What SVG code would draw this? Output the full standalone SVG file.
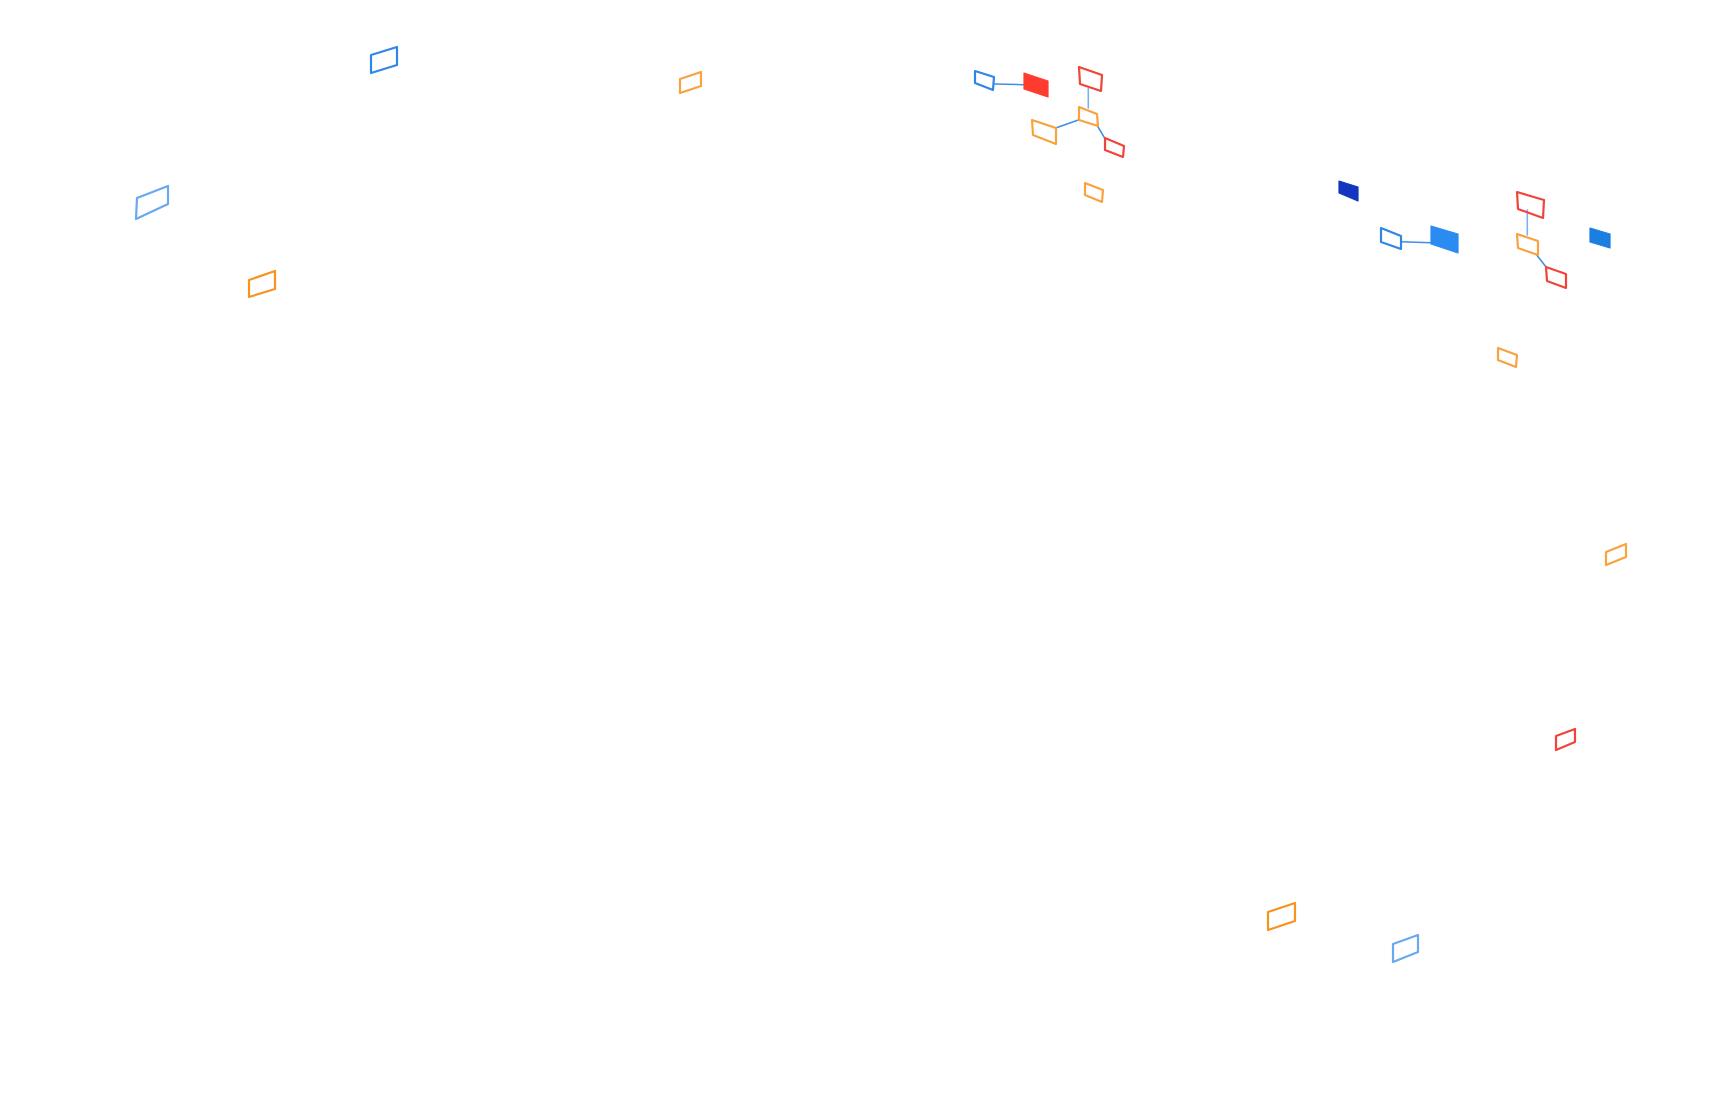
<svg xmlns="http://www.w3.org/2000/svg" width="1712" height="1106" viewBox="0 0 1712 1106">
<style>
.n{fill:none;stroke-width:2.2;stroke-linejoin:round}
.f{stroke-width:1.2;stroke-linejoin:round}
.b{stroke:#2f86e6}
.lb{stroke:#6aa8f0}
.o{stroke:#f7931e}
.lo{stroke:#f9a23f}
.r{stroke:#f0443a}
.c{fill:none;stroke-width:1.6;stroke-linecap:round}
</style>
<rect width="1712" height="1106" fill="#ffffff"/>
<g id="connectors">
<line class="c" x1="994" y1="84" x2="1024" y2="84.7" stroke="#3f8fe8"/>
<line class="c" x1="1088.3" y1="88" x2="1088.3" y2="108" stroke="#7ab2ee"/>
<line class="c" x1="1055.7" y1="128" x2="1079" y2="119.7" stroke="#3f8fe8"/>
<line class="c" x1="1097.7" y1="126.3" x2="1105" y2="138.7" stroke="#3f8fe8"/>
<line class="c" x1="1401" y1="241.7" x2="1431" y2="242.7" stroke="#3f8fe8"/>
<line class="c" x1="1527.3" y1="210" x2="1527.3" y2="235" stroke="#7ab2ee"/>
<line class="c" x1="1536.7" y1="255" x2="1546.7" y2="267.7" stroke="#3f8fe8"/>
</g>
<g id="n1"><polygon class="n b" points="371,55 397,47 397,65 371,73"/></g>
<g id="n2"><polygon class="n lb" points="137,198 168,186 168,204 136,219"/></g>
<g id="n3"><polygon class="n o" points="249,280 275,271 275,289 249,297"/></g>
<g id="n4"><polygon class="n lo" points="680,79 701,72 701,86 680,93"/></g>
<g id="n5"><polygon class="n b" points="975,71 994,77 993,90 975,83"/></g>
<g id="n6"><polygon class="f" fill="#ff3b2f" stroke="#ff3b2f" points="1024,73 1048,81 1048,97 1024,89"/></g>
<g id="n7"><polygon class="n r" points="1079,67 1102,75 1101,91 1080,84"/></g>
<g id="n8"><polygon class="n lo" points="1079,107 1097,114 1098,126 1079,120"/></g>
<g id="n9"><polygon class="n lo" points="1032,120 1056,128 1056,144 1033,135"/></g>
<g id="n10"><polygon class="n r" points="1105,138 1124,146 1123,157 1105,150"/></g>
<g id="n11"><polygon class="n lo" points="1085,183 1103,190 1102,202 1085,195"/></g>
<g id="n12"><polygon class="f" fill="#1236c0" stroke="#1236c0" points="1339,181 1358,187 1358,201 1339,193"/></g>
<g id="n13"><polygon class="n b" points="1381,228 1401,236 1401,249 1381,242"/></g>
<g id="n14"><polygon class="f" fill="#2a8cf0" stroke="#2a8cf0" points="1431,226 1458,234 1458,253 1431,244"/></g>
<g id="n15"><polygon class="n r" points="1517,192 1544,200 1543,218 1518,209"/></g>
<g id="n16"><polygon class="n lo" points="1517,234 1538,241 1538,255 1518,248"/></g>
<g id="n17"><polygon class="n r" points="1546,267 1566,274 1566,288 1547,281"/></g>
<g id="n18"><polygon class="f" fill="#1a7fe0" stroke="#1a7fe0" points="1590,228 1610,234 1610,248 1590,242"/></g>
<g id="n19"><polygon class="n lo" points="1498,348 1517,355 1516,367 1498,360"/></g>
<g id="n20"><polygon class="n lo" points="1606,552 1626,544 1626,557 1606,565"/></g>
<g id="n21"><polygon class="n r" points="1556,736 1575,729 1575,742 1556,750"/></g>
<g id="n22"><polygon class="n o" points="1268,912 1295,903 1295,921 1268,930"/></g>
<g id="n23"><polygon class="n lb" points="1393,944 1418,935 1418,952 1393,962"/></g>
</svg>
